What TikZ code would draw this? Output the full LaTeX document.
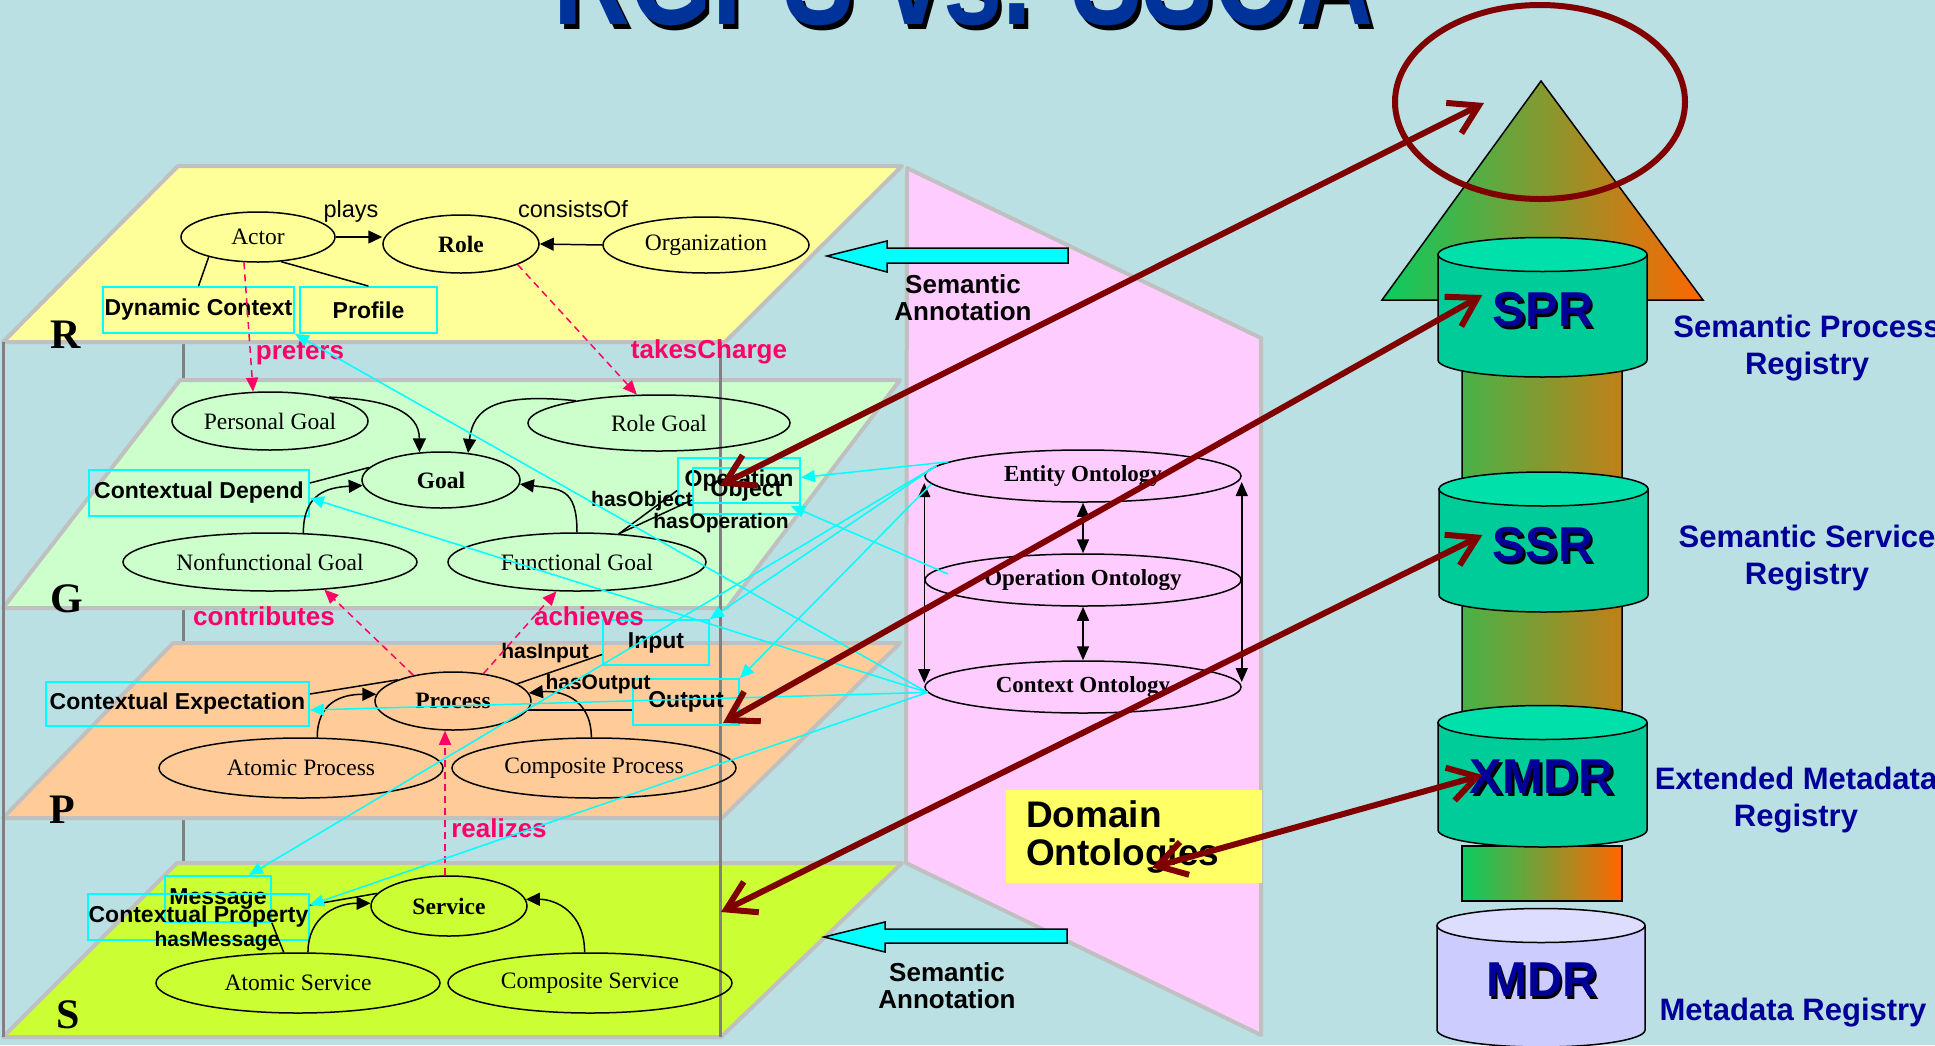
\documentclass[tikz,border=0pt]{standalone}
\usepackage{fontspec}
\usepackage{graphicx}
\setmainfont{Liberation Serif}
\setsansfont{Liberation Sans}
\usetikzlibrary{shapes.geometric,arrows.meta,calc}

\definecolor{bgc}{RGB}{186,224,227}
\definecolor{laygray}{RGB}{192,192,192}
\definecolor{framegray}{RGB}{128,128,128}
\definecolor{layR}{RGB}{255,255,153}
\definecolor{layG}{RGB}{204,255,204}
\definecolor{layP}{RGB}{255,204,153}
\definecolor{layS}{RGB}{204,255,51}
\definecolor{pinkp}{RGB}{255,204,255}
\definecolor{domy}{RGB}{255,255,102}
\definecolor{mag}{RGB}{255,0,102}
\definecolor{cy}{RGB}{0,255,255}
\definecolor{maroon}{RGB}{128,0,0}
\definecolor{navy}{RGB}{0,0,153}
\definecolor{titleblue}{RGB}{0,51,153}
\definecolor{cylbody}{RGB}{0,204,153}
\definecolor{cyltop}{RGB}{0,224,170}
\definecolor{mdrbody}{RGB}{204,204,255}
\definecolor{mdrtop}{RGB}{221,221,255}
\definecolor{agreen}{RGB}{10,204,96}
\definecolor{aorange}{RGB}{255,102,0}

% registry cylinder: x, y of top ellipse, y of bottom ellipse, rx, ry, body colour, top colour
\newcommand{\regcyl}[7]{%
  \filldraw[fill=#6, draw=black, line width=1.5pt]
    (#1-#4,#2) -- (#1-#4,#3) arc[start angle=180,end angle=0,x radius=#4,y radius=#5]
    -- (#1+#4,#2) -- cycle;
  \filldraw[fill=#7, draw=black, line width=1.5pt] (#1,#2) ellipse[x radius=#4, y radius=#5];
}

\begin{document}
\begin{tikzpicture}[x=1pt,y=-1pt,
  ell/.style={ellipse, draw=black, line width=1.5pt, inner sep=0pt,
    font=\fontsize{23.5}{26}\selectfont},
  ellb/.style={ell, font=\fontsize{23.5}{26}\selectfont\bfseries},
  ont/.style={ellipse, draw=black, line width=1.5pt, inner sep=0pt,
    minimum width=316pt, minimum height=52pt, font=\fontsize{23}{26}\selectfont\bfseries},
  cbox/.style={draw=cy, line width=1.8pt, inner sep=0pt,
    font=\sffamily\bfseries\fontsize{23}{26}\selectfont},
  lab/.style={font=\sffamily\bfseries\fontsize{21}{24}\selectfont, inner sep=0pt, anchor=base},
  rel/.style={font=\sffamily\fontsize{23.5}{26}\selectfont, inner sep=0pt, anchor=base},
  mlab/.style={font=\sffamily\bfseries\fontsize{26}{28}\selectfont, text=mag, inner sep=0pt, anchor=base},
  layerlet/.style={font=\bfseries\fontsize{42}{44}\selectfont, inner sep=0pt, anchor=base},
  annot/.style={font=\sffamily\bfseries\fontsize{26}{27}\selectfont, align=center, inner sep=0pt},
  reglab/.style={font=\sffamily\bfseries\fontsize{31}{37}\selectfont, text=navy, align=center, inner sep=0pt},
  regname/.style={font=\sffamily\bfseries\fontsize{49}{50}\selectfont, text=navy, inner sep=0pt},
  layerbox/.style={draw=laygray, line width=4pt, line join=round},
  frame/.style={draw=framegray, line width=3pt},
  arr/.style={line width=1.5pt, -{Triangle[length=14pt,width=13pt]}},
  darr/.style={line width=1.5pt, {Triangle[length=14pt,width=12pt]}-{Triangle[length=14pt,width=12pt]}},
  con/.style={line width=1.5pt},
  mdash/.style={draw=mag, line width=1.5pt, dash pattern=on 7pt off 5pt,
    -{Triangle[length=14pt,width=12pt,fill=mag]}},
  cyanarr/.style={draw=cy, line width=1.5pt, -{Triangle[length=14pt,width=12pt,fill=cy]}},
  mar/.style={draw=maroon, line width=6pt,
    {Straight Barb[length=28pt,width=34pt]}-{Straight Barb[length=28pt,width=34pt]}},
  annarrow/.style={fill=cy, draw=black, line width=1.5pt, line join=miter}
]
% canvas
\fill[bgc] (0,0) rectangle (1935,1045);
\useasboundingbox (0,0) rectangle (1935,1045);

% title
\node[font=\sffamily\bfseries\fontsize{140}{140}\selectfont, text=black, anchor=base, inner sep=0pt]
  (titlesh) at (967,29) {\scalebox{0.76}[1]{RGPS vs. SSOA}};
\node[font=\sffamily\bfseries\fontsize{140}{140}\selectfont, text=titleblue, anchor=base, inner sep=0pt]
  (title) at (963,24) {\scalebox{0.76}[1]{RGPS vs. SSOA}};

% ontology panel
\filldraw[fill=pinkp, layerbox] (907,168) -- (1261,338) -- (1261,1035) -- (906,863) -- cycle;

% back edge of the layer stack
\draw[frame] (183,342) -- (183,1037);

% the four layers
\filldraw[fill=layR, layerbox] (178,166) -- (902,166) -- (725,342) -- (3,342) -- cycle;
\filldraw[fill=layG, layerbox] (180,380) -- (900,380) -- (727,608) -- (3,608) -- cycle;
\filldraw[fill=layP, layerbox] (173,643) -- (900,643) -- (722,818) -- (3,818) -- cycle;
\filldraw[fill=layS, layerbox] (177,863) -- (902,863) -- (721,1037) -- (3,1037) -- cycle;

% front edges of the layer stack
\draw[frame] (3,342) -- (3,1037);
\draw[frame] (720,342) -- (720,1037);

\node[layerlet] (letR) at (66,348) {R};
\node[layerlet] (letG) at (67,612) {G};
\node[layerlet] (letP) at (62,823) {P};
\node[layerlet] (letS) at (68,1028) {S};

% ---- R layer
\node[ell, minimum width=154pt, minimum height=50pt] (actor) at (258,237) {Actor};
\node[ellb, minimum width=156pt, minimum height=58pt] (role) at (461,244) {Role};
\node[ell, minimum width=206pt, minimum height=56pt] (org) at (706,245) {Organization};
\node[cbox, minimum width=191pt, minimum height=46pt] (dc) at (198.5,310) {Dynamic Context};
\node[cbox, minimum width=137pt, minimum height=46pt] (prof) at (368.5,310) {Profile};

\draw[arr] (actor.east) -- (actor.east -| role.west);
\draw[arr] (org.west) -- (role.east);
\draw[con] (actor.202) -- (dc.north);
\draw[con] (actor.-47) -- (prof.north);
\node[rel] (lplays) at (351,217) {plays};
\node[rel] (lcons) at (573,217) {consistsOf};

% ---- G layer
\node[ell, minimum width=196pt, minimum height=58pt] (pg) at (270,421) {Personal Goal};
\node[ell, minimum width=262pt, minimum height=56pt] (rg) at (659,423) {Role Goal};
\node[ellb, minimum width=158pt, minimum height=56pt] (goal) at (441,480) {Goal};
\node[ell, minimum width=294pt, minimum height=58pt] (nfg) at (270,562) {Nonfunctional Goal};
\node[ell, minimum width=258pt, minimum height=58pt] (fg) at (577,562) {Functional Goal};
\node[cbox, minimum width=220pt, minimum height=46pt] (cd) at (199,493) {Contextual Depend};
\node[cbox, minimum width=122pt, minimum height=45pt] (op) at (739,480.5) {Operation};
\node[cbox, minimum width=107pt, minimum height=46pt] (obj) at (746.5,491) {Object};

\draw[arr] (pg.22) .. controls +(60,2) and +(0,-40) .. (goal.128);
\draw[arr] (rg.165) .. controls +(-80,-8) and +(5,-45) .. (goal.45);
\draw[arr] (nfg.41) .. controls +(0,-40) and +(-35,2) .. (goal.184);
\draw[arr] (fg.north) .. controls +(0,-45) and +(40,5) .. (goal.-3);
\draw[con] ([yshift=10pt]cd.east) -- (goal.170);
\draw[con] (fg.34) -- ([yshift=-10pt]op.west);
\draw[con] (fg.34) -- ([yshift=-9pt]obj.west);
\node[lab] (lhobj) at (642,506) {hasObject};
\node[lab] (lhop) at (721,528) {hasOperation};

% R -> G relations
\draw[mdash] (actor.241) -- (pg.120);
\draw[mdash] (role.-20) -- (rg.128);
\node[mlab] (lpref) at (300,359) {prefers};
\node[mlab] (ltake) at (709,358) {takesCharge};

% ---- P layer
\node[ellb, minimum width=156pt, minimum height=58pt] (proc) at (453,701) {Process};
\node[ell, minimum width=284pt, minimum height=60pt] (ap) at (301,768) {Atomic Process};
\node[ell, minimum width=284pt, minimum height=60pt] (cp) at (594,768) {Composite Process};
\node[cbox, minimum width=263pt, minimum height=44pt] (ce) at (177.5,704) {Contextual Expectation};
\node[cbox, minimum width=106pt, minimum height=45pt] (inp) at (656,642.5) {Input};
\node[cbox, minimum width=106pt, minimum height=46pt] (out) at (686,702) {Output};

\draw[con] ([yshift=10pt]ce.east) -- (proc.159);
\draw[arr] (ap.62) .. controls +(0,-35) and +(-35,0) .. (proc.175);
\draw[arr] (cp.95) .. controls +(0,-40) and +(30,-3) .. (proc.6);
\draw[con] (proc.15) -- ([yshift=-12pt]inp.west);
\draw[con] (proc.-7) -- (proc.-7 -| out.west);
\node[lab] (lhin) at (545,658) {hasInput};
\node[lab] (lhout) at (598,689) {hasOutput};

% P -> G relations
\draw[mdash] (proc.147) -- (nfg.-27);
\draw[mdash] (proc.42) -- (fg.235);
\node[mlab] (lcontr) at (264,625) {contributes};
\node[mlab] (lach) at (589,625) {achieves};

% ---- S layer
\node[ellb, minimum width=156pt, minimum height=60pt] (svc) at (449,906) {Service};
\node[ell, minimum width=284pt, minimum height=60pt] (as) at (298,983) {Atomic Service};
\node[ell, minimum width=284pt, minimum height=60pt] (cs) at (590,983) {Composite Service};
\node[cbox, minimum width=106pt, minimum height=46pt] (msg) at (218,899) {Message};
\node[cbox, minimum width=221pt, minimum height=46pt] (cprop) at (198.5,917) {Contextual Property};

\draw[con] (as.115) -- (msg.south east);
\draw[con] ([yshift=12pt]cprop.east) -- (svc.170);
\draw[arr] (as.72) .. controls +(0,-35) and +(-35,0) .. (svc.178);
\draw[arr] (cs.100) .. controls +(0,-40) and +(30,0) .. (svc.5);
\node[lab] (lhmsg) at (217,946) {hasMessage};

% S -> P relation
\draw[mdash] ([xshift=-4pt]svc.north) -- ([xshift=-4pt]svc.north |- proc.south);
\node[mlab] (lreal) at (499,837) {realizes};

% ---- domain ontologies
\node[ont] (ent) at (1083,476) {Entity Ontology};
\node[ont] (opo) at (1083,580) {Operation Ontology};
\node[ont] (ctx) at (1083,687) {Context Ontology};
\draw[darr] (ent.south) -- (opo.north);
\draw[darr] (opo.south) -- (ctx.north);
\draw[darr] ([yshift=-7pt]ent.west) -- ([yshift=4pt]ctx.west);
\draw[darr] ([yshift=-6pt]ent.east) -- ([yshift=5pt]ctx.east);

\node[fill=domy, minimum width=256pt, minimum height=93pt, text width=216pt, align=left,
  inner sep=0pt, font=\sffamily\bfseries\fontsize{37}{38}\selectfont]
  (dom) at (1134,836.5) {Domain\\Ontologies};

% semantic annotation arrows
\filldraw[annarrow] (827,256) -- (887,241) -- (887,248) -- (1068,248) -- (1068,263)
  -- (887,263) -- (887,272) -- cycle;
\node[annot] (sa1) at (963,298) {Semantic\\Annotation};
\filldraw[annarrow] (824,937) -- (885,922) -- (885,929) -- (1067,929) -- (1067,943)
  -- (885,943) -- (885,952) -- cycle;
\node[annot] (sa2) at (947,986) {Semantic\\Annotation};

% ---- registry stack
\shadedraw[left color=agreen, right color=aorange, draw=black, line width=1.5pt, line join=miter]
  (1382,300) -- (1541,81) -- (1703,300) -- (1622,300) -- (1622,722) -- (1462,722)
  -- (1462,300) -- cycle;
\regcyl{1542.5}{254.5}{360}{104.5}{17}{cylbody}{cyltop}
\regcyl{1543.5}{489}{595}{104.5}{17}{cylbody}{cyltop}
\shadedraw[left color=agreen, right color=aorange, draw=black, line width=1.5pt]
  (1462,846) rectangle (1622,901);
\regcyl{1542.5}{722.5}{830}{104.5}{17}{cylbody}{cyltop}
\regcyl{1541}{925.5}{1030}{104}{17}{mdrbody}{mdrtop}

\node[regname, text=black] (sprsh) at (1545.5,312.5) {SPR};
\node[regname] (spr) at (1543,310) {SPR};
\node[regname, text=black] (ssrsh) at (1545.5,547.5) {SSR};
\node[regname] (ssr) at (1543,545) {SSR};
\node[regname, text=black] (xmdrsh) at (1544.5,779.5) {XMDR};
\node[regname] (xmdr) at (1542,777) {XMDR};
\node[regname, text=black] (mdrsh) at (1544.5,982.5) {MDR};
\node[regname] (mdr) at (1542,980) {MDR};

\node[reglab] (lspr) at (1807,348) {Semantic Process\\Registry};
\node[reglab] (lssr) at (1807,558) {Semantic Service\\Registry};
\node[reglab] (lxmdr) at (1796,800) {Extended Metadata\\Registry};
\node[reglab, anchor=base] (lmdr) at (1793,1020) {Metadata Registry};

% ---- annotation links from the ontologies
\draw[cyanarr] (ctx.182) -- (dc.south east);
\draw[cyanarr] (ctx.182) -- ([yshift=-5pt]cd.east);
\draw[cyanarr] (ctx.182) -- ([yshift=-6pt]ce.east);
\draw[cyanarr] (ctx.182) -- ([yshift=12pt]cprop.east);
\draw[cyanarr] (ent.174) -- ([yshift=3pt]op.east);
\draw[cyanarr] (ent.176) -- (inp.north east);
\draw[cyanarr] (ent.183) -- (out.north east);
\draw[cyanarr] (ent.176) -- ([xshift=31pt]msg.north);
\draw[cyanarr] ($(opo.center)+(-135,-6)$) -- ($(obj.south east)+(-10,-9)$);

% ---- registry mappings
\node[draw=maroon, line width=6pt, ellipse, minimum width=290pt, minimum height=194pt,
  inner sep=0pt] (ring) at (1540,102) {};
\coordinate (stip) at (721,912);
\draw[mar] ($(op.center)+(-19,5)$) -- ($(ring.center)+(-56,1)$);
\draw[mar] ($(out.center)+(37,21)$) -- ($(spr.west)+(-10,-15)$);
\draw[mar] (stip) -- ($(ssr.west)+(-10,-10)$);
\draw[mar] ($(dom.center)+(18,31)$) -- ($(xmdr.west)+(13,-2)$);
\end{tikzpicture}
\end{document}
